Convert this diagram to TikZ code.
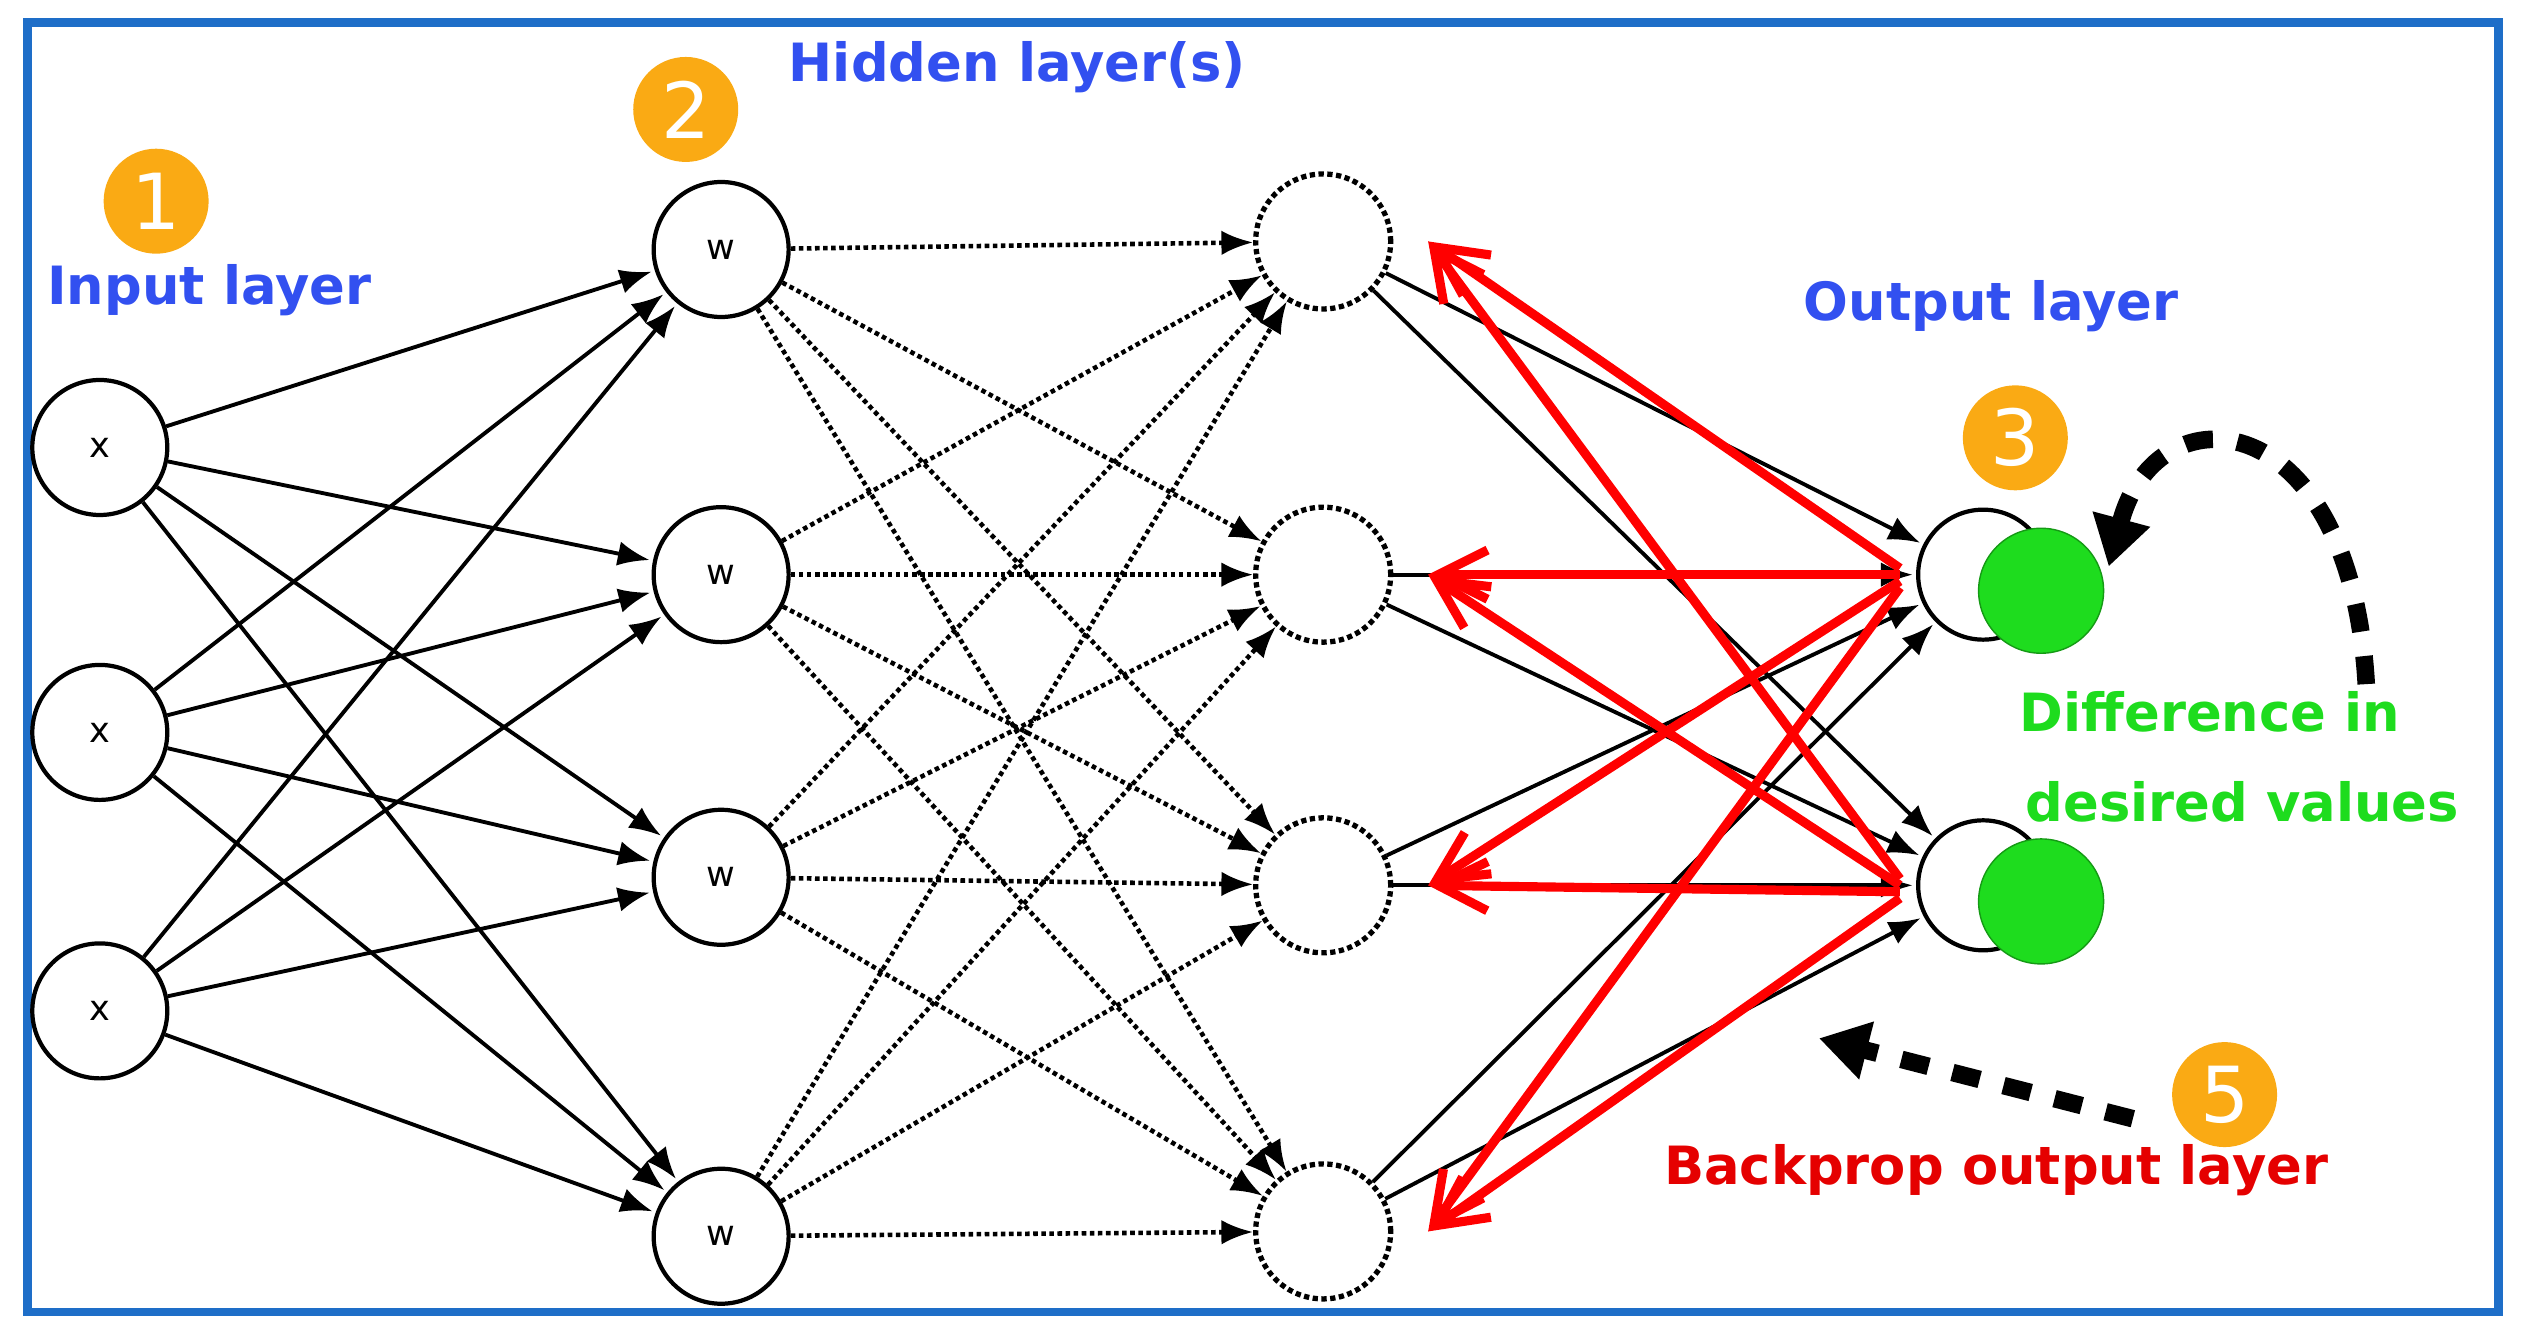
\documentclass[tikz,border=0pt]{standalone}
\usepackage{fontspec}
\setmainfont{DejaVu Sans}
\usetikzlibrary{arrows.meta}
\definecolor{lblue}{RGB}{50,80,240}
\definecolor{bord}{RGB}{30,110,200}
\definecolor{orng}{RGB}{250,170,20}
\definecolor{gr}{RGB}{30,220,30}
\begin{document}
\begin{tikzpicture}[x=0.0161cm,y=-0.0161cm,
 neu/.style={draw,line width=1.2pt,circle,inner sep=0pt,font=\fontsize{10}{12}\selectfont},
 dneu/.style={draw,densely dotted,line width=1.5pt,circle,inner sep=0pt},
 badge/.style={circle,fill=orng,minimum size=1.05cm,inner sep=0pt,text=white,font=\fontsize{22}{24}\selectfont},
 lab/.style={font=\fontsize{15}{20}\selectfont\bfseries},
 sa/.style={-{Latex[length=9pt,width=7pt]},line width=1.1pt,shorten >=1pt},
 da/.style={-{Latex[length=9pt,width=7pt]},line width=1.3pt,densely dotted},
 ra/.style={-{Straight Barb[length=14pt,width=14pt]},red,line width=2.6pt},
 ka/.style={-{Triangle[length=14pt,width=16pt]},line width=5pt,dash pattern=on 8pt off 7pt}]
\useasboundingbox (0,0) rectangle (1568,829);
\draw[bord,line width=2.5pt] (17,14) rectangle (1552,815);
\foreach \i/\y in {1/278,2/455,3/628}{\node[neu,minimum size=1.35cm] (x\i) at (62,\y) {x};}
\foreach \i/\y in {1/155,2/357,3/545,4/768}{\node[neu,minimum size=1.35cm] (w\i) at (448,\y) {w};}
\foreach \i/\y in {1/150,2/357,3/550,4/765}{\node[dneu,minimum size=1.35cm] (h\i) at (822,\y) {};}
\foreach \i/\y in {1/357,2/550}{
 \node[neu,minimum size=1.3cm] (o\i) at (1232,\y) {};
 \node[circle,fill=gr,draw=gr!70!black,minimum size=1.25cm] (g\i) at (1268,\y+10) {};}
\foreach \i in {1,2,3}\foreach \j in {1,2,3,4}{\draw[sa] (x\i) -- (w\j);}
\foreach \i in {1,2,3,4}\foreach \j in {1,2,3,4}{\draw[da] (w\i) -- (h\j);}
\foreach \i in {1,2,3,4}\foreach \j in {1,2}{\draw[sa] (h\i) -- (o\j);}
\foreach \i in {1,2}\foreach \j in {1,2,3,4}{\draw[ra] (o\i.west) ++(-10,-8+16*\j/4) -- ([xshift=1.05cm]h\j.center);}
\node[badge] (b1) at (97,125) {1};
\node[badge] (b2) at (426,68) {2};
\node[badge] (b3) at (1252,272) {3};
\node[badge] (b5) at (1382,680) {5};
\node[lab,text=lblue] (l1) at (130,180) {Input layer};
\node[lab,text=lblue] (l2) at (632,42) {Hidden layer(s)};
\node[lab,text=lblue] (l3) at (1237,190) {Output layer};
\node[lab,text=gr] (l4) at (1373,442) {Difference in};
\node[lab,text=gr] (l5) at (1393,498) {desired values};
\node[lab,text=red!90!black] (l6) at (1240,727) {Backprop output layer};
\coordinate (c1) at (1470,425);
\coordinate (c2) at (1310,352);
\draw[ka] (c1) .. controls (1460,250) and (1340,240) .. (c2);
\coordinate (c3) at (1325,695);
\coordinate (c4) at (1130,645);
\draw[ka] (c3) -- (c4);
\end{tikzpicture}
\end{document}
